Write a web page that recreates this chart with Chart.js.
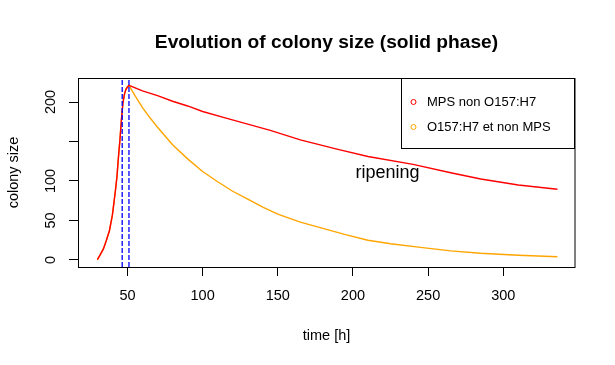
<!DOCTYPE html>
<html>
<head>
<meta charset="utf-8">
<script src="https://cdn.jsdelivr.net/npm/chart.js@4.4.1/dist/chart.umd.min.js"></script>
<style>
  html, body { margin: 0; padding: 0; background: #ffffff; }
  #wrap { width: 615px; height: 365px; }
</style>
</head>
<body>
<div id="wrap"><canvas id="c" width="615" height="365"></canvas></div>
<script>
// ---------- data ----------
const chartTitle = "Evolution of colony size (solid phase)";
const xTitle = "time [h]";
const yTitle = "colony size";
const annotationText = "ripening";
const annotationAt = [223, 110];

const seriesNames = ["MPS non O157:H7", "O157:H7 et non MPS"];

// growth phase (shared by both groups)
const growthTimes  = [30, 32, 34, 36, 38, 40, 42, 43, 44, 45, 46, 47, 48, 49, 50, 51];
const growthValues = [0.5, 7, 14, 25, 37, 57, 88, 105, 130, 152, 178, 199, 210, 216, 219, 221];

// ripening phase
const redTimes    = [51, 60, 70, 80, 90, 100, 115, 130, 145, 165, 190, 210, 240, 265, 285, 310, 336];
const redValues   = [221, 214, 208, 201, 195, 188, 180, 172, 164, 152, 140, 131, 121, 110.5, 102.5, 95, 89.5];

const orangeTimes  = [51, 55, 60, 65, 70, 75, 80, 90, 100, 110, 120, 130, 140, 150, 165, 180, 195, 210, 225, 245, 265, 285, 310, 336];
const orangeValues = [221, 208, 193, 180, 168, 157, 146, 128, 112, 99, 87, 77, 67, 58, 48, 40, 32, 25, 20.5, 16, 11.5, 8.5, 6, 4];

// vertical reference lines
const vLineTimes = [46.5, 51];

// axes
const xTicks = [50, 100, 150, 200, 250, 300];
const yTicks = [0, 50, 100, 150, 200];
const yTickLabels = ["0", "50", "100", "", "200"];
const xRange = [17.1, 347.7];
const yRange = [-8.9, 230.4];

// ---------- build datasets ----------
function pts(ts, vs) { return ts.map((t, i) => ({ x: t, y: vs[i] })); }
const redData = pts(growthTimes, growthValues).concat(pts(redTimes.slice(1), redValues.slice(1)));
const orangeData = pts(growthTimes, growthValues).concat(pts(orangeTimes.slice(1), orangeValues.slice(1)));

const FONT = "'Liberation Sans', Arial, sans-serif";

const datasets = [];
vLineTimes.forEach(t => {
  datasets.push({
    label: "vline",
    data: [{ x: t, y: yRange[0] }, { x: t, y: yRange[1] }],
    borderColor: "#0000FF",
    borderWidth: 1.3,
    borderDash: [5, 2],
    pointRadius: 0,
    isVLine: true
  });
});
datasets.push({
  label: seriesNames[0],
  data: redData,
  borderColor: "#FF0000",
  borderWidth: 1.4,
  pointRadius: 0,
  tension: 0
});
datasets.push({
  label: seriesNames[1],
  data: orangeData,
  borderColor: "#FFA500",
  borderWidth: 1.4,
  pointRadius: 0,
  tension: 0
});

const decorPlugin = {
  id: "decor",
  afterDraw(chart) {
    const ctx = chart.ctx;
    const a = chart.chartArea;
    const xs = chart.scales.x, ys = chart.scales.y;
    ctx.save();
    // box
    ctx.strokeStyle = "#000";
    ctx.lineWidth = 1;
    ctx.strokeRect(a.left + 0.5, a.top + 0.5, a.right - a.left - 1 + 0.5, a.bottom - a.top);
    // title
    ctx.fillStyle = "#000";
    ctx.textAlign = "center";
    ctx.textBaseline = "middle";
    ctx.font = "bold 19.2px " + FONT;
    const cx = (a.left + a.right) / 2;
    ctx.fillText(chartTitle, cx, 43);
    // axis titles
    ctx.font = "14.5px " + FONT;
    ctx.fillText(xTitle, cx, 336);
    ctx.save();
    ctx.translate(14, (a.top + a.bottom) / 2);
    ctx.rotate(-Math.PI / 2);
    ctx.fillText(yTitle, 0, 0);
    ctx.restore();
    // annotation
    ctx.font = "18px " + FONT;
    ctx.fillText(annotationText, xs.getPixelForValue(annotationAt[0]), ys.getPixelForValue(annotationAt[1]));
    // legend
    const lx0 = 401.5, ly0 = a.top + 0.5, lx1 = a.right - 0.5, ly1 = 148.5;
    ctx.fillStyle = "#fff";
    ctx.fillRect(lx0, ly0, lx1 - lx0, ly1 - ly0);
    ctx.strokeStyle = "#000";
    ctx.lineWidth = 1;
    ctx.strokeRect(lx0, ly0, lx1 - lx0, ly1 - ly0);
    const legendSets = chart.data.datasets.filter(d => !d.isVLine);
    ctx.font = "13px " + FONT;
    ctx.textAlign = "left";
    legendSets.forEach((d, i) => {
      const y = 102 + i * 25;
      ctx.beginPath();
      ctx.arc(413.5, y, 2.5, 0, Math.PI * 2);
      ctx.strokeStyle = d.borderColor;
      ctx.lineWidth = 1;
      ctx.stroke();
      ctx.fillStyle = "#000";
      ctx.fillText(d.label, 427, y);
    });
    ctx.restore();
  }
};

new Chart(document.getElementById("c"), {
  type: "line",
  data: { datasets },
  options: {
    responsive: false,
    animation: false,
    devicePixelRatio: 1,
    layout: { padding: { left: 0, top: 78, right: 40, bottom: 0 } },
    plugins: { legend: { display: false }, tooltip: { enabled: false }, title: { display: false } },
    elements: { line: { fill: false } },
    scales: {
      x: {
        type: "linear",
        min: xRange[0], max: xRange[1],
        afterBuildTicks: s => { s.ticks = xTicks.map(v => ({ value: v })); },
        afterFit: s => { s.height = 365 - 267; },
        grid: { drawOnChartArea: false, drawTicks: true, tickLength: 9, color: "#000", lineWidth: 1 },
        border: { display: false },
        ticks: { autoSkip: false, maxRotation: 0, padding: 11, color: "#000", font: { family: FONT, size: 14.5 }, callback: v => String(v) }
      },
      y: {
        type: "linear",
        min: yRange[0], max: yRange[1],
        afterBuildTicks: s => { s.ticks = yTicks.map(v => ({ value: v })); },
        afterFit: s => { s.width = 78; },
        grid: { drawOnChartArea: false, drawTicks: true, tickLength: 9, color: "#000", lineWidth: 1 },
        border: { display: false },
        ticks: {
          autoSkip: false, minRotation: 90, maxRotation: 90, crossAlign: "center", padding: 6,
          color: "#000", font: { family: FONT, size: 14.5 },
          callback: v => { const i = yTicks.indexOf(v); return i >= 0 ? yTickLabels[i] : ""; }
        }
      }
    }
  },
  plugins: [decorPlugin]
});
</script>
</body>
</html>
